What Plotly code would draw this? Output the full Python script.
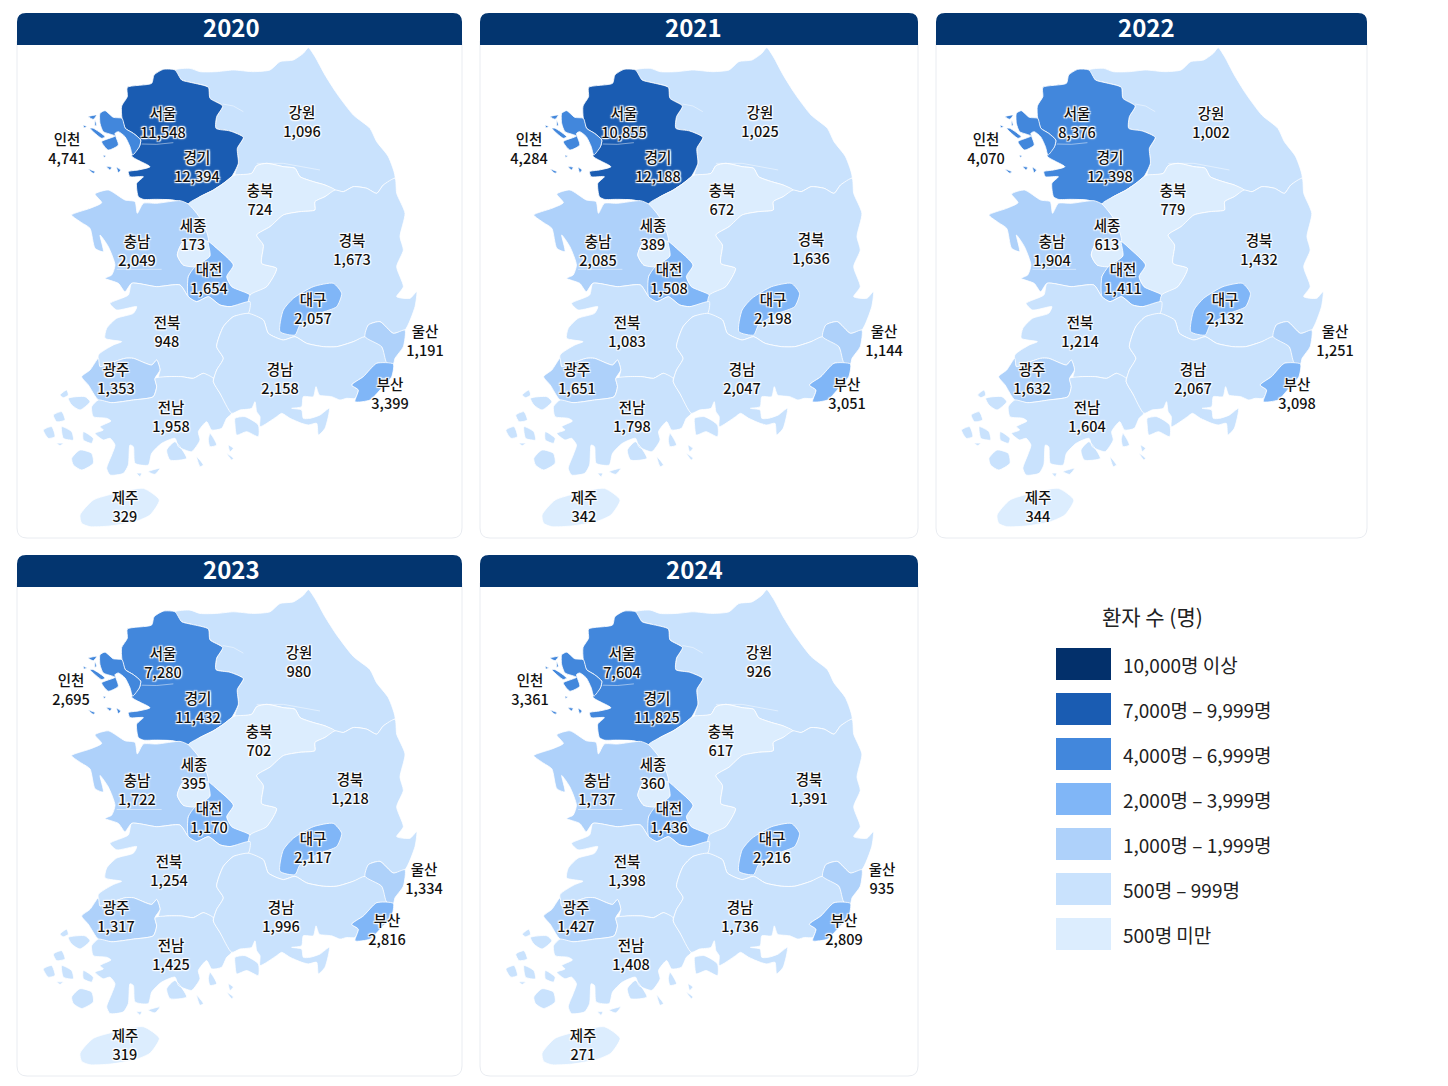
"""Regional patient counts 2020-2024, one map panel per year."""
import plotly.graph_objects as go

YEARS = [2020, 2021, 2022, 2023, 2024]
REGIONS = ["서울", "경기", "인천", "강원", "충북", "세종", "충남", "대전", "경북",
           "대구", "전북", "광주", "전남", "경남", "울산", "부산", "제주"]

VALUES_2020 = [11548, 12394, 4741, 1096, 724, 173, 2049, 1654, 1673, 2057, 948, 1353, 1958, 2158, 1191, 3399, 329]
VALUES_2021 = [10855, 12188, 4284, 1025, 672, 389, 2085, 1508, 1636, 2198, 1083, 1651, 1798, 2047, 1144, 3051, 342]
VALUES_2022 = [8376, 12398, 4070, 1002, 779, 613, 1904, 1411, 1432, 2132, 1214, 1632, 1604, 2067, 1251, 3098, 344]
VALUES_2023 = [7280, 11432, 2695, 980, 702, 395, 1722, 1170, 1218, 2117, 1254, 1317, 1425, 1996, 1334, 2816, 319]
VALUES_2024 = [7604, 11825, 3361, 926, 617, 360, 1737, 1436, 1391, 2216, 1398, 1427, 1408, 1736, 935, 2809, 271]
VALUES = [VALUES_2020, VALUES_2021, VALUES_2022, VALUES_2023, VALUES_2024]

# colour class of each region as the picture shows it (index into TIER_COLORS)
TIERS_2020 = [1, 1, 2, 5, 6, 6, 4, 3, 5, 3, 5, 4, 5, 5, 4, 3, 6]
TIERS_2021 = [1, 1, 2, 5, 6, 6, 4, 3, 5, 3, 5, 4, 5, 5, 4, 3, 6]
TIERS_2022 = [2, 2, 2, 5, 6, 6, 4, 3, 5, 3, 5, 4, 5, 5, 4, 3, 6]
TIERS_2023 = [2, 2, 2, 5, 6, 6, 4, 3, 5, 3, 5, 4, 5, 5, 4, 3, 6]
TIERS_2024 = [2, 2, 2, 5, 6, 6, 4, 3, 5, 3, 5, 4, 5, 5, 4, 3, 6]
TIERS = [TIERS_2020, TIERS_2021, TIERS_2022, TIERS_2023, TIERS_2024]

LEGEND_TITLE = "환자 수 (명)"
LEGEND_LABELS = ["10,000명 이상", "7,000명 – 9,999명", "4,000명 – 6,999명", "2,000명 – 3,999명",
                 "1,000명 – 1,999명", "500명 – 999명", "500명 미만"]
TIER_COLORS = ["#03306b", "#1a5cb2", "#4287dc", "#80b6f7", "#aed1fa", "#c9e2fd", "#dcedfe"]

# region outlines in map units
OUTLINES = {
    "강원": [[(925, 143), (945, 170), (975, 225), (1010, 280), (1060, 345), (1110, 385), (1130, 425), (1165, 470),
             (1185, 535), (1150, 555), (1130, 580), (1100, 565), (1060, 560), (1030, 575), (1005, 570), (975, 555),
             (940, 545), (900, 530), (885, 505), (850, 500), (800, 490), (770, 497), (755, 520), (705, 525),
             (715, 490), (712, 445), (730, 412), (690, 393), (648, 385), (650, 350), (668, 318), (630, 295),
             (625, 262), (575, 248), (545, 240), (525, 210), (570, 205), (600, 215), (650, 215), (700, 210),
             (760, 215), (810, 210), (840, 185), (880, 180), (910, 160)]],
    "경기": [[(490, 208), (525, 210), (545, 240), (575, 248), (625, 262), (630, 295), (668, 318), (650, 350),
             (648, 385), (690, 393), (730, 412), (712, 445), (715, 490), (695, 530), (670, 550), (640, 570),
             (600, 590), (565, 612), (520, 600), (470, 598), (430, 598), (415, 590), (410, 550), (430, 530),
             (390, 530), (385, 515), (415, 510), (450, 500), (395, 468), (418, 440), (422, 420), (400, 400),
             (376, 385), (366, 355), (365, 318), (382, 290), (382, 262), (455, 250), (462, 225)]],
    "인천": [[(300, 340), (315, 332), (340, 352), (366, 355), (376, 385), (400, 400), (422, 420), (418, 440),
             (398, 465), (390, 440), (375, 410), (355, 395), (345, 400), (355, 435), (325, 450), (305, 425),
             (345, 408), (310, 395), (300, 370)],
            [(265, 350), (290, 345), (280, 358)], [(250, 375), (260, 380), (252, 383)],
            [(270, 385), (280, 385), (315, 410), (305, 415)], [(285, 360), (290, 375), (285, 378)],
            [(265, 508), (285, 515), (280, 520)], [(320, 500), (335, 502), (330, 510)],
            [(350, 502), (362, 510), (355, 518)], [(310, 465), (318, 468), (312, 472)]],
    "충북": [[(705, 525), (755, 520), (770, 497), (800, 490), (850, 500), (885, 505), (900, 530), (940, 545),
             (975, 555), (1005, 570), (975, 590), (945, 605), (945, 630), (900, 635), (850, 645), (810, 680),
             (770, 705), (790, 735), (785, 790), (830, 805), (800, 860), (750, 885), (695, 860), (680, 830),
             (700, 795), (650, 745), (625, 725), (610, 670), (590, 640), (565, 612), (600, 590), (640, 570),
             (670, 550), (695, 530)]],
    "충남": [[(565, 612), (540, 602), (470, 610), (430, 610), (412, 640), (405, 605), (375, 600), (325, 570),
             (285, 582), (305, 608), (270, 625), (215, 645), (245, 668), (270, 685), (285, 745), (310, 755),
             (300, 705), (325, 740), (345, 795), (335, 825), (315, 835), (355, 850), (375, 875), (395, 850),
             (470, 860), (540, 855), (565, 890), (565, 830), (585, 800), (550, 795), (532, 765), (550, 725),
             (625, 725), (610, 670), (590, 640)]],
    "세종": [[(550, 725), (625, 725), (630, 768), (585, 800), (550, 795), (532, 765)]],
    "대전": [[(625, 725), (650, 745), (700, 795), (680, 830), (695, 860), (750, 885), (750, 905), (690, 920),
             (660, 915), (625, 890), (590, 905), (565, 890), (565, 830), (585, 800), (630, 768)]],
    "경북": [[(1185, 535), (1190, 580), (1215, 640), (1200, 710), (1210, 750), (1190, 800), (1210, 860), (1190, 890),
             (1230, 895), (1250, 875), (1245, 920), (1215, 990), (1180, 1000), (1140, 965), (1105, 975), (1095, 1010),
             (1060, 1025), (1010, 1040), (970, 1040), (920, 1030), (885, 1010), (850, 1020), (805, 1000), (790, 960),
             (745, 940), (750, 885), (800, 860), (830, 805), (785, 790), (790, 735), (770, 705), (810, 680),
             (850, 645), (900, 635), (945, 630), (945, 605), (975, 590), (1005, 570), (1030, 575), (1060, 560),
             (1100, 565), (1130, 580), (1150, 555)]],
    "대구": [[(1000, 850), (1025, 880), (1010, 920), (960, 940), (900, 975), (885, 1005), (840, 995), (850, 930),
             (880, 895), (940, 860)]],
    "전북": [[(395, 850), (470, 860), (540, 855), (565, 890), (590, 905), (625, 890), (660, 915), (690, 920),
             (750, 905), (745, 940), (700, 950), (670, 980), (650, 1040), (670, 1075), (650, 1110), (640, 1135),
             (610, 1120), (580, 1135), (545, 1130), (500, 1130), (475, 1135), (480, 1110), (470, 1080), (455, 1095),
             (400, 1075), (375, 1075), (330, 1090), (300, 1100), (295, 1065), (340, 1035), (365, 1025), (315, 1015),
             (320, 985), (350, 955), (400, 940), (410, 920), (350, 930), (330, 910), (385, 885)]],
    "광주": [[(295, 1075), (300, 1100), (330, 1090), (375, 1075), (400, 1075), (455, 1095), (470, 1080), (480, 1110),
             (465, 1135), (470, 1160), (460, 1190), (400, 1200), (335, 1208), (295, 1200), (265, 1155), (245, 1130),
             (270, 1110)]],
    "전남": [[(465, 1135), (500, 1130), (545, 1130), (580, 1135), (610, 1120), (640, 1135), (640, 1145), (660, 1180),
             (695, 1240), (680, 1255), (665, 1285), (635, 1290), (620, 1265), (595, 1295), (600, 1320), (575, 1355),
             (555, 1350), (535, 1340), (525, 1315), (485, 1330), (455, 1360), (445, 1395), (405, 1390), (400, 1340),
             (390, 1335), (385, 1395), (370, 1420), (330, 1425), (320, 1405), (335, 1365), (345, 1335), (330, 1315),
             (310, 1320), (285, 1300), (310, 1290), (300, 1280), (333, 1263), (320, 1255), (280, 1250), (275, 1220),
             (295, 1200), (335, 1208), (400, 1200), (460, 1190), (470, 1160)],
            [(215, 1375), (240, 1350), (275, 1360), (280, 1390), (245, 1410), (220, 1395)],
            [(160, 1245), (185, 1235), (195, 1260), (170, 1265)],
            [(130, 1290), (155, 1280), (165, 1310), (145, 1315)],
            [(185, 1280), (215, 1295), (220, 1320), (190, 1315)],
            [(250, 1295), (280, 1315), (275, 1330), (250, 1320)],
            [(170, 1330), (190, 1330), (180, 1337)],
            [(180, 1185), (200, 1170), (205, 1185), (190, 1193)],
            [(205, 1195), (255, 1190), (270, 1205), (240, 1230), (215, 1215)],
            [(410, 1420), (425, 1420), (420, 1430)],
            [(445, 1415), (480, 1405), (465, 1423)],
            [(630, 1300), (650, 1335), (630, 1340), (625, 1320)],
            [(685, 1335), (700, 1345), (690, 1355)],
            [(680, 1360), (700, 1375), (695, 1380)],
            [(500, 1350), (525, 1325), (560, 1375), (510, 1380)],
            [(590, 1370), (610, 1395), (600, 1400)]],
    "경남": [[(745, 940), (700, 950), (670, 980), (650, 1040), (670, 1075), (650, 1110), (640, 1145), (660, 1180),
             (695, 1240), (720, 1230), (755, 1225), (765, 1205), (770, 1235), (780, 1250), (780, 1280), (830, 1250),
             (845, 1240), (870, 1255), (905, 1270), (925, 1275), (950, 1270), (955, 1305), (975, 1285), (988, 1225),
             (960, 1245), (930, 1255), (910, 1255), (905, 1230), (875, 1225), (905, 1220), (910, 1190), (940, 1190),
             (948, 1160), (958, 1185), (995, 1190), (1020, 1200), (1040, 1195), (1065, 1195),
             (1075, 1170), (1055, 1155), (1090, 1130), (1130, 1090), (1160, 1088), (1145, 1040), (1095, 1010), (1060, 1025),
             (1010, 1040), (970, 1040), (920, 1030), (885, 1010), (850, 1020), (805, 1000), (790, 960)],
            [(705, 1255), (735, 1250), (775, 1275), (775, 1310), (740, 1295), (710, 1305), (705, 1275)]],
    "울산": [[(1105, 975), (1140, 965), (1180, 1000), (1215, 990), (1210, 1040), (1185, 1075), (1180, 1092), (1160, 1088),
             (1145, 1040), (1095, 1010)]],
    "부산": [[(1130, 1090), (1180, 1092), (1175, 1130), (1140, 1170), (1110, 1200), (1065, 1205), (1075, 1170),
             (1055, 1155), (1090, 1130)]],
    "제주": [[(240, 1545), (280, 1500), (345, 1480), (430, 1465), (478, 1500), (450, 1545), (405, 1565), (330, 1578),
             (270, 1580), (245, 1570)]],
}
# faint inner lines, same units
INNER_LINES = [[(425, 432), (470, 433), (520, 428)], [(668, 312), (700, 318), (730, 335)],
               [(350, 808), (420, 808), (485, 808)], [(770, 490), (850, 490), (960, 510)]]

# label centres (x, y of the region name) as read per panel, same order as REGIONS
LABELS_2020 = [(163, 114), (197, 158), (67, 140), (302, 113), (260, 191), (193, 226), (137, 242), (209, 270), (352, 241),
               (313, 300), (167, 323), (116, 370), (171, 408), (280, 370), (425, 332), (390, 385), (125, 498)]
LABELS_2021 = [(624, 114), (658, 158), (529, 140), (760, 113), (722, 191), (653, 226), (598, 242), (669, 270), (811, 240),
               (773, 300), (627, 323), (577, 370), (632, 408), (742, 370), (884, 332), (847, 385), (584, 498)]
LABELS_2022 = [(1077, 114), (1110, 158), (986, 140), (1211, 114), (1173, 191), (1107, 226), (1052, 242), (1123, 270), (1259, 241),
               (1225, 300), (1080, 323), (1032, 370), (1087, 408), (1193, 370), (1335, 332), (1297, 385), (1038, 498)]
LABELS_2023 = [(163, 654), (198, 699), (71, 681), (299, 653), (259, 732), (194, 765), (137, 781), (209, 809), (350, 780),
               (313, 839), (169, 862), (116, 908), (171, 946), (281, 908), (424, 870), (387, 921), (125, 1036)]
LABELS_2024 = [(622, 654), (657, 699), (530, 681), (759, 653), (721, 732), (653, 765), (597, 781), (669, 809), (809, 780),
               (772, 839), (627, 862), (576, 908), (631, 946), (740, 908), (882, 870), (844, 921), (583, 1036)]
LABELS = [LABELS_2020, LABELS_2021, LABELS_2022, LABELS_2023, LABELS_2024]

W, H = 1448, 1086
FONT = "Noto Sans CJK KR"
NAVY = "#03356f"
MAP_X = (51, 1386)
MAP_Y = (135, 1614)
# panel boxes on the page: left, right, header top, body top, body bottom, year text centre
PANELS = [(17, 462, 13, 45, 538, 231), (480, 918, 13, 45, 538, 693), (936, 1367, 13, 45, 538, 1146),
          (17, 462, 555, 587, 1076, 231), (480, 918, 555, 587, 1076, 694)]


def px(x):
    return x / W


def py(y):
    return 1 - y / H


def ring_xy(rings):
    xs, ys = [], []
    for ring in rings:
        closed = ring + ring[:1]
        xs += [p[0] for p in closed] + [None]
        ys += [p[1] for p in closed] + [None]
    return xs, ys


def card_path(x0, x1, y0, y1, r_top, r_bottom):
    # rounded box in page pixels, written as paper fractions
    pts = [("M", x0 + r_top, y0), ("L", x1 - r_top, y0), ("Q", x1, y0, x1, y0 + r_top),
           ("L", x1, y1 - r_bottom), ("Q", x1, y1, x1 - r_bottom, y1),
           ("L", x0 + r_bottom, y1), ("Q", x0, y1, x0, y1 - r_bottom),
           ("L", x0, y0 + r_top), ("Q", x0, y0, x0 + r_top, y0)]
    out = []
    for p in pts:
        coords = [f"{px(p[j])} {py(p[j + 1])}" for j in range(1, len(p), 2)]
        out.append(p[0] + " " + " ".join(coords))
    return " ".join(out) + " Z"


def page_text(x, y, text, size, color="#222222", xanchor="center"):
    return dict(x=px(x), y=py(y), xref="paper", yref="paper", text=text, showarrow=False,
                xanchor=xanchor, yanchor="middle", font=dict(family=FONT, size=size, color=color))


fig = go.Figure()
shapes, annotations = [], []
layout_axes = {}
TEXT_SHADOW = "1px 1px 1px #fff, -1px -1px 1px #fff, 1px -1px 1px #fff, -1px 1px 1px #fff, 0 0 3px #fff"

for i, year in enumerate(YEARS):
    x0, x1, head, y0, y1, year_x = PANELS[i]
    n = i + 1
    layout_axes[f"xaxis{n}"] = dict(domain=[px(x0), px(x1)], range=list(MAP_X), visible=False,
                                    fixedrange=True, anchor=f"y{n}")
    layout_axes[f"yaxis{n}"] = dict(domain=[py(y1), py(y0)], range=[MAP_Y[1], MAP_Y[0]], visible=False,
                                    fixedrange=True, anchor=f"x{n}")

    for name, rings in OUTLINES.items():
        tier = TIERS[i][REGIONS.index(name)]
        xs, ys = ring_xy(rings)
        fig.add_trace(go.Scatter(x=xs, y=ys, xaxis=f"x{n}", yaxis=f"y{n}", mode="lines", fill="toself",
                                 fillcolor=TIER_COLORS[tier],
                                 line=dict(color="rgba(255,255,255,0.8)", width=1, shape="spline", smoothing=0.6),
                                 hoverinfo="skip", showlegend=False))
    for line in INNER_LINES:
        fig.add_trace(go.Scatter(x=[p[0] for p in line], y=[p[1] for p in line], xaxis=f"x{n}", yaxis=f"y{n}",
                                 mode="lines", line=dict(color="rgba(255,255,255,0.45)", width=1),
                                 hoverinfo="skip", showlegend=False))

    # label positions come from page pixels, turned into map units for this panel
    lx, ly, lt = [], [], []
    for name, value, (lab_x, lab_y) in zip(REGIONS, VALUES[i], LABELS[i]):
        lx.append(MAP_X[0] + (lab_x - x0) / (x1 - x0) * (MAP_X[1] - MAP_X[0]))
        ly.append(MAP_Y[0] + (lab_y + 11 - y0) / (y1 - y0) * (MAP_Y[1] - MAP_Y[0]))
        lt.append(f"{name}<br>{value:,}")
    fig.add_trace(go.Scatter(x=lx, y=ly, text=lt, xaxis=f"x{n}", yaxis=f"y{n}", mode="text",
                             textposition="middle center", hoverinfo="skip", showlegend=False, cliponaxis=False,
                             textfont=dict(family=FONT, size=14.5, color="#111111", weight=500, shadow=TEXT_SHADOW)))

    shapes.append(dict(type="path", xref="paper", yref="paper", path=card_path(x0, x1, y0 - 4, y1, 0.1, 10),
                       fillcolor="white", line=dict(color="#e9ecf1", width=1), layer="below"))
    shapes.append(dict(type="path", xref="paper", yref="paper", path=card_path(x0, x1, head, y0, 9, 0.1),
                       fillcolor=NAVY, line=dict(width=0), layer="above"))
    annotations.append(page_text(year_x, (head + y0) / 2 - 3, f"<b>{year}</b>", 24, color="white"))

annotations.append(page_text(1152, 616, LEGEND_TITLE, 21))
for k, (label, color) in enumerate(zip(LEGEND_LABELS, TIER_COLORS)):
    top = 648 + 45 * k
    shapes.append(dict(type="rect", xref="paper", yref="paper", x0=px(1056), x1=px(1111), y0=py(top + 32), y1=py(top),
                       fillcolor=color, line=dict(width=0), layer="above"))
    annotations.append(page_text(1121, top + 16, label, 19, xanchor="left"))

fig.update_layout(width=W, height=H, margin=dict(l=0, r=0, t=0, b=0), paper_bgcolor="white", plot_bgcolor="rgba(0,0,0,0)",
                  shapes=shapes, annotations=annotations, showlegend=False, **layout_axes)
fig.write_html("out.html", post_script="document.body.style.margin='0';", config={"displayModeBar": False})
